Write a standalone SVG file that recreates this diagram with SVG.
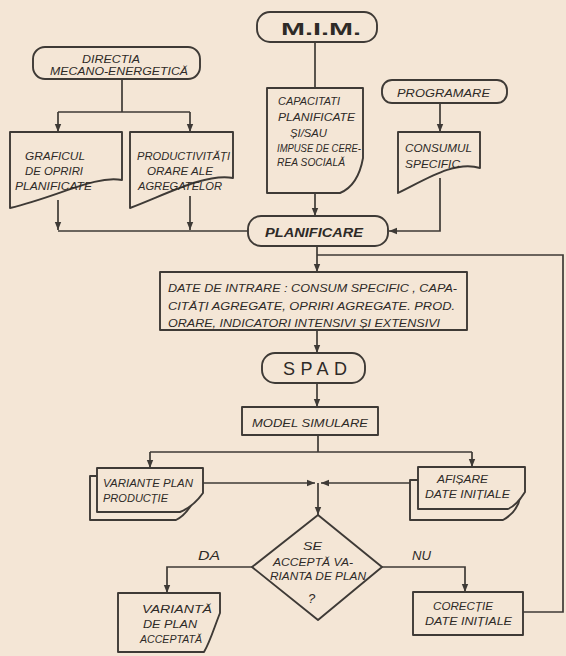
<svg xmlns="http://www.w3.org/2000/svg" width="566" height="656" viewBox="0 0 566 656">
<defs>
<marker id="arr" viewBox="0 0 10 10" refX="10" refY="5" markerWidth="8" markerHeight="8" markerUnits="userSpaceOnUse" orient="auto">
<path d="M0,1 L10,5 L0,9 Z" fill="#3e3a36"/>
</marker>
<style>
.s{fill:none;stroke:#3e3a36;stroke-width:1.9;stroke-linejoin:round}
.f{fill:#f4e6d6;stroke:#3e3a36;stroke-width:1.9;stroke-linejoin:round}
.c{fill:none;stroke:#3e3a36;stroke-width:1.7}
.t{font-family:"Liberation Sans",Arial,sans-serif;font-style:italic;font-size:11.5px;fill:#2e2a27}
.b{font-weight:bold}
.n{font-style:normal}
</style>
</defs>
<rect x="0" y="0" width="566" height="656" fill="#f4e6d6"/>

<g id="connectors">
<path class="c" d="M122,79 V112 M58,112 H190"/>
<path class="c" d="M58,112 V132" marker-end="url(#arr)"/>
<path class="c" d="M190,112 V132" marker-end="url(#arr)"/>
<path class="c" d="M58,200 V230" marker-end="url(#arr)"/>
<path class="c" d="M190,196 V230" marker-end="url(#arr)"/>
<path class="c" d="M58,231 H248"/>
<path class="c" d="M315,42 V88"/>
<path class="c" d="M315,193 V216" marker-end="url(#arr)"/>
<path class="c" d="M440,103 V132" marker-end="url(#arr)"/>
<path class="c" d="M440,178 V231 H389" marker-end="url(#arr)"/>
<path class="c" d="M317,246 V272" marker-end="url(#arr)"/>
<path class="c" d="M523,612 H563 V255 H317"/>
<path class="c" d="M317,330 V353" marker-end="url(#arr)"/>
<path class="c" d="M317,383 V407" marker-end="url(#arr)"/>
<path class="c" d="M318,435 V452 M150,452 H472"/>
<path class="c" d="M150,452 V468" marker-end="url(#arr)"/>
<path class="c" d="M472,452 V467" marker-end="url(#arr)"/>
<path class="c" d="M203,483 H315" marker-end="url(#arr)"/>
<path class="c" d="M410,483 H321" marker-end="url(#arr)"/>
<path class="c" d="M318,483 V515" marker-end="url(#arr)"/>
<path class="c" d="M252,567 H167 V593" marker-end="url(#arr)"/>
<path class="c" d="M382,567 H465 V592" marker-end="url(#arr)"/>
</g>

<g id="mim">
<rect class="f" x="257" y="12" width="120" height="30" rx="13"/>
<text class="t b n" x="281" y="35" style="font-size:17px" textLength="80" lengthAdjust="spacingAndGlyphs">M.I.M.</text>
</g>

<g id="directia">
<rect class="f" x="33" y="47" width="167" height="32" rx="12"/>
<text class="t" x="82" y="63" textLength="58" lengthAdjust="spacingAndGlyphs">DIRECTIA</text>
<text class="t" x="50" y="75" textLength="138" lengthAdjust="spacingAndGlyphs">MECANO-ENERGETICĂ</text>
</g>

<g id="graficul">
<path class="f" d="M10,132 H122 V180 C95,175 60,196 10,208 Z"/>
<text class="t" x="25" y="160" textLength="60" lengthAdjust="spacingAndGlyphs">GRAFICUL</text>
<text class="t" x="25" y="175" textLength="58" lengthAdjust="spacingAndGlyphs">DE OPRIRI</text>
<text class="t" x="15" y="190" textLength="77" lengthAdjust="spacingAndGlyphs">PLANIFICATE</text>
</g>

<g id="productivitati">
<path class="f" d="M130,132 H233 V178 C205,173 165,195 130,208 Z"/>
<text class="t" x="137" y="160" textLength="93" lengthAdjust="spacingAndGlyphs">PRODUCTIVITĂȚI</text>
<text class="t" x="147" y="175" textLength="66" lengthAdjust="spacingAndGlyphs">ORARE ALE</text>
<text class="t" x="138" y="190" textLength="84" lengthAdjust="spacingAndGlyphs">AGREGATELOR</text>
</g>

<g id="capacitati">
<path class="f" d="M267,88 H363 V158 C360,175 352,188 340,193 H267 Z"/>
<text class="t" x="278" y="105" style="font-size:11px" textLength="62" lengthAdjust="spacingAndGlyphs">CAPACITATI</text>
<text class="t" x="278" y="121" style="font-size:11px" textLength="77" lengthAdjust="spacingAndGlyphs">PLANIFICATE</text>
<text class="t" x="290" y="137" style="font-size:11px" textLength="37" lengthAdjust="spacingAndGlyphs">ȘI/SAU</text>
<text class="t" x="277" y="152" style="font-size:11px" textLength="84" lengthAdjust="spacingAndGlyphs">IMPUSE DE CERE-</text>
<text class="t" x="277" y="166" style="font-size:11px" textLength="68" lengthAdjust="spacingAndGlyphs">REA SOCIALĂ</text>
</g>

<g id="programare">
<rect class="f" x="382" y="80" width="125" height="23" rx="10"/>
<text class="t" x="397" y="97" style="font-size:11px" textLength="93" lengthAdjust="spacingAndGlyphs">PROGRAMARE</text>
</g>

<g id="consumul">
<path class="f" d="M398,132 H480 V168 C455,160 425,180 398,193 Z"/>
<text class="t" x="405" y="152" style="font-size:11px" textLength="67" lengthAdjust="spacingAndGlyphs">CONSUMUL</text>
<text class="t" x="405" y="168" style="font-size:11px" textLength="55" lengthAdjust="spacingAndGlyphs">SPECIFIC</text>
</g>

<g id="planificare">
<rect class="f" x="248" y="216" width="140" height="30" rx="13"/>
<text class="t b" x="265" y="237" style="font-size:13.5px" textLength="98" lengthAdjust="spacingAndGlyphs">PLANIFICARE</text>
</g>

<g id="date-intrare">
<rect class="f" x="160" y="272" width="307" height="58"/>
<text class="t" x="168" y="292" style="font-size:11px" textLength="289" lengthAdjust="spacingAndGlyphs">DATE DE INTRARE : CONSUM SPECIFIC , CAPA-</text>
<text class="t" x="168" y="310" style="font-size:11px" textLength="287" lengthAdjust="spacingAndGlyphs">CITĂȚI  AGREGATE, OPRIRI AGREGATE. PROD.</text>
<text class="t" x="168" y="327" style="font-size:11px" textLength="272" lengthAdjust="spacingAndGlyphs">ORARE, INDICATORI INTENSIVI ȘI EXTENSIVI</text>
</g>

<g id="spad">
<rect class="f" x="262" y="353" width="103" height="30" rx="13"/>
<text class="t n" x="283" y="375" style="font-size:18px" textLength="64" lengthAdjust="spacing">SPAD</text>
</g>

<g id="model-simulare">
<rect class="f" x="242" y="407" width="136" height="28"/>
<text class="t" x="252" y="427" textLength="116" lengthAdjust="spacingAndGlyphs">MODEL SIMULARE</text>
</g>

<g id="variante-plan">
<path class="s" d="M97,476 H90 V520 H176 C184,516 190,508 194,500"/>
<path class="f" d="M97,468 H203 V493 C198,500 190,508 180,512 H97 Z"/>
<text class="t" x="103" y="487" style="font-size:11px" textLength="90" lengthAdjust="spacingAndGlyphs">VARIANTE PLAN</text>
<text class="t" x="103" y="502" style="font-size:11px" textLength="65" lengthAdjust="spacingAndGlyphs">PRODUCȚIE</text>
</g>

<g id="afisare">
<path class="s" d="M418,480 H410 V520 H503 C512,515 518,508 520,498"/>
<path class="f" d="M418,467 H525 V492 C520,500 515,506 508,509 H418 Z"/>
<text class="t" x="437" y="483" style="font-size:11px" textLength="51" lengthAdjust="spacingAndGlyphs">AFIȘARE</text>
<text class="t" x="425" y="498" style="font-size:11px" textLength="85" lengthAdjust="spacingAndGlyphs">DATE INIȚIALE</text>
</g>

<g id="decizie">
<path class="f" d="M318,515 L382,567 L318,620 L252,567 Z"/>
<text class="t" x="303" y="550" style="font-size:11px" textLength="19" lengthAdjust="spacingAndGlyphs">SE</text>
<text class="t" x="273" y="566" style="font-size:11px" textLength="80" lengthAdjust="spacingAndGlyphs">ACCEPTĂ VA-</text>
<text class="t" x="270" y="580" style="font-size:11px" textLength="96" lengthAdjust="spacingAndGlyphs">RIANTA DE PLAN</text>
<text class="t" x="308" y="603" style="font-size:13px">?</text>
</g>

<g id="label-da"><text class="t" x="198" y="560" style="font-size:13px" textLength="22" lengthAdjust="spacingAndGlyphs">DA</text></g>
<g id="label-nu"><text class="t" x="412" y="560" style="font-size:13px" textLength="19" lengthAdjust="spacingAndGlyphs">NU</text></g>

<g id="varianta-acceptata">
<path class="f" d="M118,593 H220 V613 C214,628 210,642 204,652 H118 Z"/>
<text class="t" x="142" y="613" style="font-size:11px" textLength="70" lengthAdjust="spacingAndGlyphs">VARIANTĂ</text>
<text class="t" x="143" y="628" style="font-size:11px" textLength="54" lengthAdjust="spacingAndGlyphs">DE PLAN</text>
<text class="t" x="140" y="643" style="font-size:11px" textLength="62" lengthAdjust="spacingAndGlyphs">ACCEPTATĂ</text>
</g>

<g id="corectie">
<rect class="f" x="413" y="592" width="110" height="43"/>
<text class="t" x="433" y="610" style="font-size:11px" textLength="60" lengthAdjust="spacingAndGlyphs">CORECȚIE</text>
<text class="t" x="425" y="625" style="font-size:11px" textLength="87" lengthAdjust="spacingAndGlyphs">DATE INIȚIALE</text>
</g>
</svg>
